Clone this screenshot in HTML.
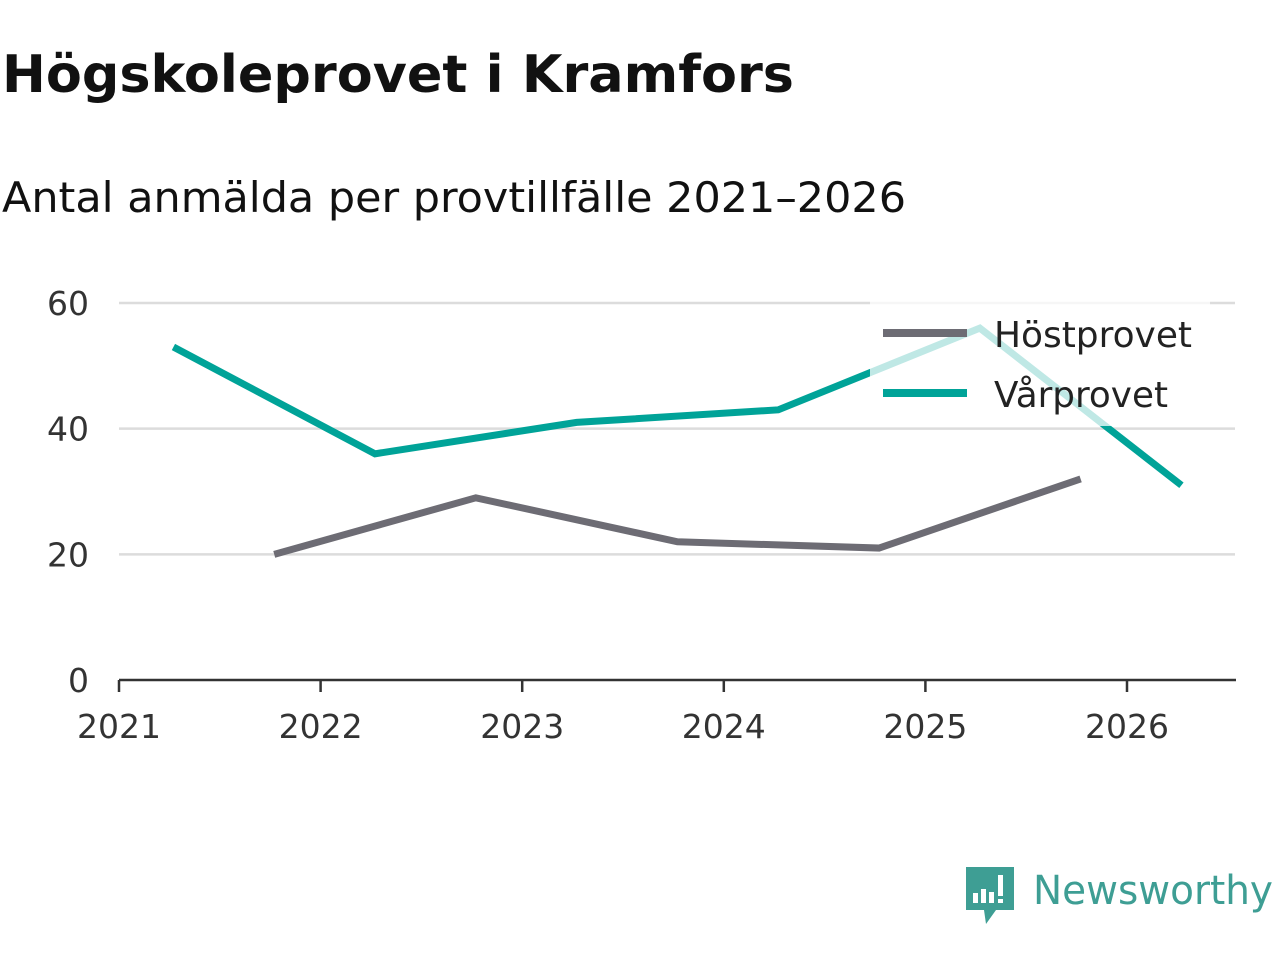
<!DOCTYPE html>
<html><head><meta charset="utf-8"><style>
body{margin:0;width:1280px;height:960px;background:#fff;overflow:hidden;font-family:"DejaVu Sans","Liberation Sans",sans-serif}
</style></head><body>
<svg width="1280" height="960">
<text x="2" y="92" font-size="52" font-weight="bold" fill="#111" textLength="792" lengthAdjust="spacingAndGlyphs">Högskoleprovet i Kramfors</text>
<text x="2" y="212" font-size="42" fill="#111" textLength="904" lengthAdjust="spacingAndGlyphs">Antal anmälda per provtillfälle 2021–2026</text>
<g id="grid"></g><g id="series"></g><g id="axes"></g>
<g>
<rect x="870" y="300" width="340" height="126" fill="#fff" opacity="0.75"/>
<line x1="883" y1="333" x2="967" y2="333" stroke="#6d6c74" stroke-width="8"/>
<text x="994" y="347" font-size="36" fill="#222" textLength="198" lengthAdjust="spacingAndGlyphs">Höstprovet</text>
<line x1="883" y1="393" x2="967" y2="393" stroke="#00a398" stroke-width="8"/>
<text x="994" y="407" font-size="36" fill="#222" textLength="174" lengthAdjust="spacingAndGlyphs">Vårprovet</text>
</g>
<g>
<path d="M966 867 h48 v43 h-18 l-10 14 l-2 -14 h-18 z" fill="#3e9e94"/>
<rect x="973" y="893" width="5" height="10" fill="#fff"/><rect x="981" y="889" width="5" height="14" fill="#fff"/><rect x="989" y="892" width="5" height="11" fill="#fff"/><rect x="998" y="875" width="5" height="21" fill="#fff"/><rect x="998" y="899" width="5" height="4" fill="#fff"/>
<text x="1033" y="904" font-size="40" fill="#3e9e94" textLength="240" lengthAdjust="spacingAndGlyphs">Newsworthy</text>
</g>
</svg>
<script>
const years=[2021,2022,2023,2024,2025,2026];
const yTicks=[0,20,40,60];
const hostDates=[2021.77,2022.77,2023.77,2024.77,2025.77];
const hostValues=[20,29,22,21,32];
const varDates=[2021.27,2022.27,2023.27,2024.27,2025.27,2026.27];
const varValues=[53,36,41,43,56,31];
const NS='http://www.w3.org/2000/svg';
const xs=v=>119+(v-2021)*201.6;
const ys=v=>680-v*6.283;
function mk(t,a,p){const e=document.createElementNS(NS,t);for(const k in a)e.setAttribute(k,a[k]);p.appendChild(e);return e;}
const grid=document.getElementById('grid'),axes=document.getElementById('axes'),ser=document.getElementById('series');
yTicks.forEach(v=>{
 if(v>0){const l=mk('line',{x1:119,x2:1235,y1:ys(v),y2:ys(v),stroke:'#dcdcdc','stroke-width':2.5},grid);
 
 }
 const t=mk('text',{x:89,y:ys(v)+12,'font-size':33,fill:'#333','text-anchor':'end'},axes);t.textContent=v;
 
 
});
const ax=mk('line',{x1:119,x2:1236,y1:680,y2:680,stroke:'#333','stroke-width':2.5},axes);


years.forEach(y=>{
 mk('line',{x1:xs(y),x2:xs(y),y1:680,y2:692,stroke:'#333','stroke-width':2.5},axes);
 const t=mk('text',{x:xs(y),y:738,'font-size':33,fill:'#333','text-anchor':'middle'},axes);t.textContent=y;
 
 
});
const p1=mk('polyline',{points:hostDates.map((d,i)=>xs(d)+','+ys(hostValues[i])).join(' '),fill:'none',stroke:'#6d6c74','stroke-width':7},ser);


const p2=mk('polyline',{points:varDates.map((d,i)=>xs(d)+','+ys(varValues[i])).join(' '),fill:'none',stroke:'#00a398','stroke-width':7},ser);


</script>
</body></html>
